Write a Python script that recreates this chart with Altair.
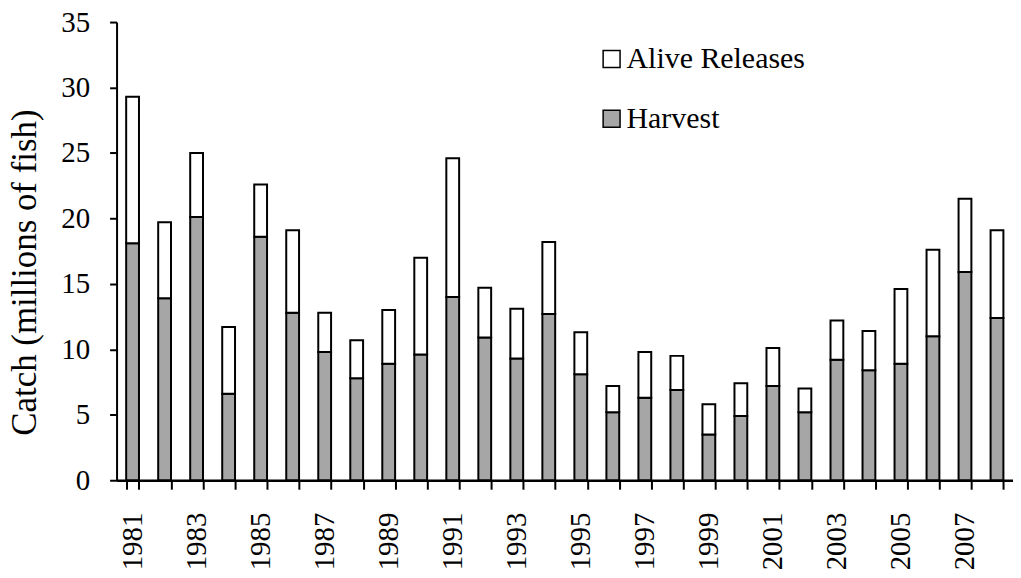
import altair as alt
import pandas as pd

years = list(range(1981, 2009))
harvest = [18.1, 13.9, 20.1, 6.6, 18.6, 12.8, 9.8, 7.8, 8.9, 9.6, 14.0, 10.9, 9.3, 12.7,
           8.1, 5.2, 6.3, 6.9, 3.5, 4.9, 7.2, 5.2, 9.2, 8.4, 8.9, 11.0, 15.9, 12.4]
alive_releases = [11.2, 5.8, 4.9, 5.1, 4.0, 6.3, 3.0, 2.9, 4.1, 7.4, 10.6, 3.8, 3.8, 5.5,
                  3.2, 2.0, 3.5, 2.6, 2.3, 2.5, 2.9, 1.8, 3.0, 3.0, 5.7, 6.6, 5.6, 6.7]
series_names = ["Alive Releases", "Harvest"]
series_colors = ["#FFFFFF", "#A6A6A6"]
y_ticks = [0, 5, 10, 15, 20, 25, 30, 35]

rows = []
for yr, h, a in zip(years, harvest, alive_releases):
    rows.append({"Year": yr, "Type": "Harvest", "Value": h, "ord": 1})
    rows.append({"Year": yr, "Type": "Alive Releases", "Value": a, "ord": 2})
df = pd.DataFrame(rows)

FONT = "Liberation Serif"

chart = alt.Chart(df).mark_bar(stroke="black", strokeWidth=2).encode(
    x=alt.X("Year:O",
            scale=alt.Scale(paddingInner=0.6, paddingOuter=0.3),
            axis=alt.Axis(title=None, labelAngle=-90, labelFontSize=29, labelFont=FONT,
                          labelColor="black", labelPadding=23,
                          labelExpr="datum.value % 2 == 1 ? datum.label : ''",
                          labelOverlap=False,
                          tickBand="extent", tickSize=9, tickWidth=2, tickColor="black",
                          domainColor="black", domainWidth=2.5)),
    y=alt.Y("Value:Q", stack="zero",
            scale=alt.Scale(domain=[0, 35], nice=False),
            axis=alt.Axis(title="Catch (millions of fish)", values=y_ticks, grid=False,
                          labelFontSize=29, labelFont=FONT, labelColor="black",
                          labelPadding=20, tickSize=7, tickWidth=2, tickColor="black",
                          domainColor="black", domainWidth=2,
                          titleFont=FONT, titleFontSize=35, titleFontWeight="normal",
                          titleColor="black", titleX=-81, titleY=251,
                          titleBaseline="alphabetic", titleAngle=-90)),
    color=alt.Color("Type:N",
                    scale=alt.Scale(domain=series_names, range=series_colors),
                    legend=alt.Legend(title=None, orient="none", legendX=482, legendY=22,
                                      symbolType="square", symbolSize=289,
                                      symbolStrokeColor="black", symbolStrokeWidth=1.5,
                                      symbolOpacity=1, labelLimit=500,
                                      labelFont=FONT, labelFontSize=30, labelColor="black",
                                      labelOffset=0, rowPadding=30)),
    order=alt.Order("ord:Q", sort="ascending"),
).properties(
    width=900, height=460,
    autosize=alt.AutoSizeParams(type="none"),
    padding={"left": 109, "top": 13, "right": 0, "bottom": 89},
).configure(
    background="white", font=FONT,
).configure_view(stroke=None)

chart.save("out.html", embed_options={"renderer": "svg", "actions": False})
